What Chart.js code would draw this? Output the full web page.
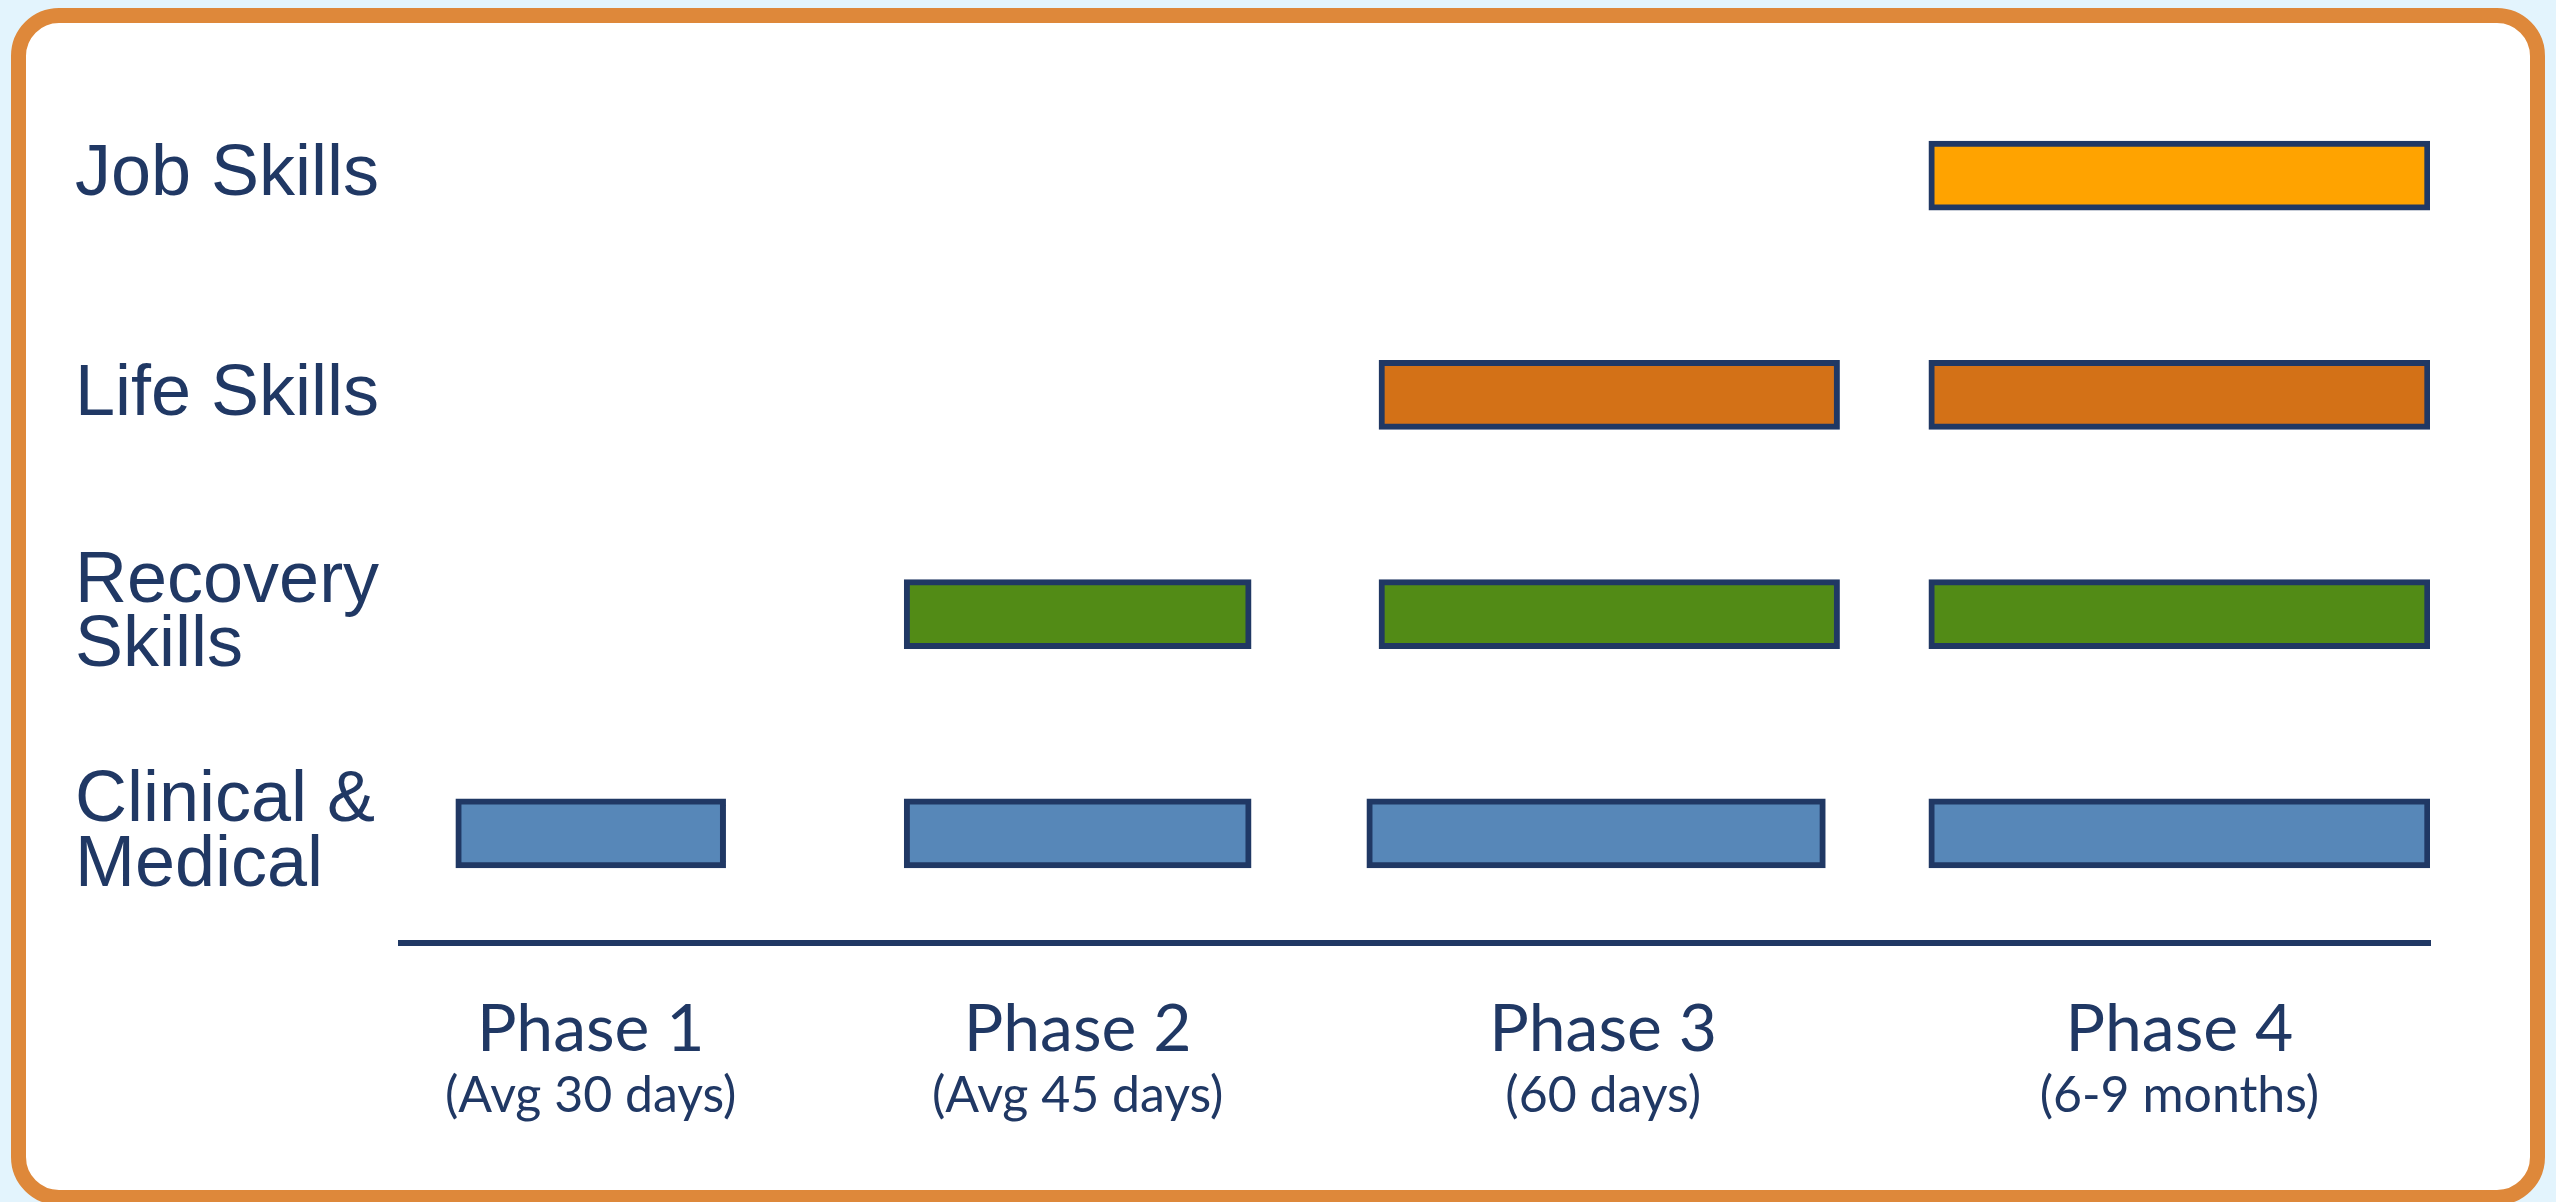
<!DOCTYPE html>
<html>
<head>
<meta charset="utf-8">
<script src="https://cdn.jsdelivr.net/npm/chart.js@4.4.1/dist/chart.umd.min.js"></script>
<style>
  html, body { margin: 0; padding: 0; background: #E3F4FD; overflow: hidden; }
  .frame {
    position: absolute; left: 11px; top: 8px; width: 2534px; height: 1197px;
    box-sizing: border-box; border: 15px solid #DE883A; border-radius: 48px; background: #fff;
  }
  .wrap { position: absolute; left: 0; top: 0; width: 2556px; height: 1202px; }
</style>
</head>
<body>
<div class="frame"></div>
<div class="wrap"><canvas id="myChart"></canvas></div>
<script>
// rows (top to bottom) and the phases along the bottom
const skills = [['Job Skills'], ['Life Skills'], ['Recovery', 'Skills'], ['Clinical &', 'Medical']];
const phaseNames = ['Phase 1', 'Phase 2', 'Phase 3', 'Phase 4'];
const phaseNotes = ['(Avg 30 days)', '(Avg 45 days)', '(60 days)', '(6-9 months)'];

// bar spans per phase, one entry per row (null = no bar), on a 0-100 timeline
const phase1 = [null, null, null, [2.7, 16.0]];
const phase2 = [null, null, [24.8, 41.9], [24.8, 41.9]];
const phase3 = [null, [48.2, 70.9], [48.2, 70.9], [47.6, 70.2]];
const phase4 = [[75.3, 100], [75.3, 100], [75.3, 100], [75.3, 100]];

const navy = '#203864';
const rowColors = ['#FFA300', '#D37117', '#528B16', '#5787B8'];

const phases = [phase1, phase2, phase3, phase4];

// label each phase at the middle of its bars
const phaseCenters = phases.map(p => {
  const spans = p.filter(s => s);
  const lo = Math.min(...spans.map(s => s[0]));
  const hi = Math.max(...spans.map(s => s[1]));
  return (lo + hi) / 2;
});

const ctx = document.getElementById('myChart').getContext('2d');

new Chart(ctx, {
  type: 'bar',
  data: {
    labels: skills,
    datasets: phases.map((p, i) => ({
      label: phaseNames[i],
      data: p,
      backgroundColor: rowColors,
      borderColor: navy,
      borderWidth: 6,
      borderSkipped: false,
      barThickness: 69,
      grouped: false
    }))
  },
  options: {
    indexAxis: 'y',
    responsive: true,
    maintainAspectRatio: false,
    animation: false,
    events: [],
    layout: { padding: { left: 75, top: 66, right: 126, bottom: 85 } },
    plugins: { legend: { display: false }, tooltip: { enabled: false } },
    scales: {
      y: {
        grid: { display: false, drawTicks: false },
        border: { display: false },
        ticks: {
          crossAlign: 'far',
          padding: 0,
          color: navy,
          font: { family: 'Liberation Sans', size: 72, lineHeight: 0.9 }
        },
        afterFit: scale => { scale.width = 326; }
      },
      x: {
        type: 'linear',
        min: 0,
        max: 100,
        weight: 0,
        grid: { display: false, drawTicks: false },
        border: { display: true, color: navy, width: 6 },
        afterBuildTicks: scale => { scale.ticks = phaseCenters.map(v => ({ value: v })); },
        ticks: {
          autoSkip: false,
          maxRotation: 0,
          padding: 47.4,
          color: navy,
          font: { family: 'Lato', size: 66, lineHeight: 1.2 },
          callback: (v, i) => phaseNames[i]
        }
      },
      // second row of phase labels, hung just under the phase names
      x2: {
        type: 'linear',
        position: 'bottom',
        min: 0,
        max: 100,
        weight: 1,
        grid: { display: false, drawTicks: false },
        border: { display: false },
        afterBuildTicks: scale => { scale.ticks = phaseCenters.map(v => ({ value: v })); },
        ticks: {
          autoSkip: false,
          maxRotation: 0,
          mirror: true,
          padding: 0,
          color: navy,
          font: { family: 'Lato', size: 50, lineHeight: 0.86 },
          callback: (v, i) => phaseNotes[i]
        }
      }
    }
  }
});
</script>
</body>
</html>
